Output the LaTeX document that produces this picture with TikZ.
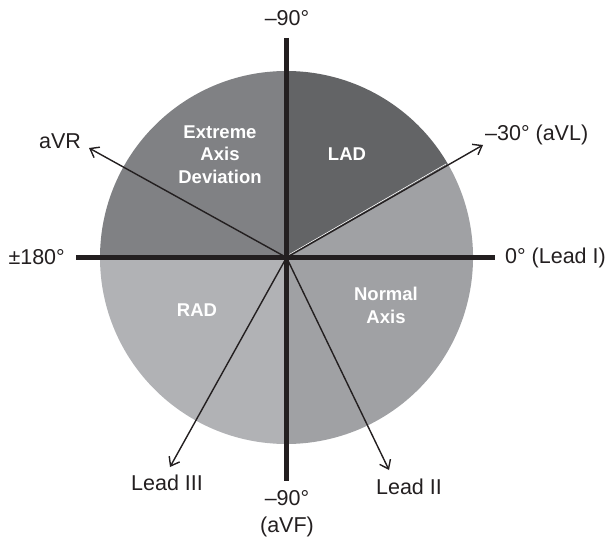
\documentclass[tikz,border=0pt]{standalone}
\usepackage{fontspec}
\setmainfont{Liberation Sans}
\usetikzlibrary{arrows.meta,calc}
\definecolor{inkc}{HTML}{231F20}
\definecolor{extc}{HTML}{808184}
\definecolor{ladc}{HTML}{636466}
\definecolor{norc}{HTML}{A0A1A4}
\definecolor{radc}{HTML}{B1B2B5}
\tikzset{
  axisline/.style={line width=5pt, inkc},
  leadarrow/.style={line width=1.4pt, inkc, -{Straight Barb[length=8pt,width=12pt,line width=1.4pt]}},
  outlabel/.style={font=\fontsize{21.5}{25}\selectfont, text=inkc, inner sep=0pt},
  inlabel/.style={font=\fontsize{18.5}{22.5}\selectfont\bfseries, text=white, align=center, inner sep=0pt},
}
\begin{document}
\begin{tikzpicture}[x=1pt,y=-1pt]
\useasboundingbox (0,0) rectangle (607,537);
\coordinate (C) at (286.5,257.5);
% sectors
\fill[extc] (C) -- +(-180:186.5) arc[start angle=-180,end angle=-90,radius=186.5] -- cycle;
\fill[ladc] (C) -- +(-90:186.5) arc[start angle=-90,end angle=-30,radius=186.5] -- cycle;
\fill[norc] (C) -- +(-30:186.5) arc[start angle=-30,end angle=90,radius=186.5] -- cycle;
\fill[radc] (C) -- +(90:186.5) arc[start angle=90,end angle=180,radius=186.5] -- cycle;
% thin white edge along the -30 boundary
\coordinate (wA) at ($(C)+(-0.6,-1.05)+(-30:4)$);
\coordinate (wB) at ($(C)+(-0.6,-1.05)+(-30:185)$);
\draw[white, line width=0.6pt] (wA) -- (wB);
% axes
\coordinate (vT) at (286.5,38);
\coordinate (vB) at (286.5,481);
\coordinate (hL) at (76,257.5);
\coordinate (hR) at (495,257.5);
\draw[axisline] (vT) -- (vB);
\draw[axisline] (hL) -- (hR);
% lead arrows
\coordinate (tVR) at (89,148);
\coordinate (tVL) at (483,145);
\coordinate (tIII) at (170,467);
\coordinate (tII) at (389,470);
\draw[leadarrow] (C) -- (tVR);
\draw[leadarrow] (C) -- (tVL);
\draw[leadarrow] (C) -- (tIII);
\draw[leadarrow] (C) -- (tII);
% outer labels
\node[outlabel] (lTop) at (287,18) {–90°};
\node[outlabel, anchor=east] (l180) at (65,257) {±180°};
\node[outlabel, anchor=west] (lI) at (505,258) {0° (Lead I)};
\node[outlabel] (lVR) at (60,141) {aVR};
\node[outlabel, anchor=west] (lVL) at (485,135) {–30° (aVL)};
\node[outlabel] (lIII) at (167,483) {Lead III};
\node[outlabel] (lII) at (409,487) {Lead II};
\node[outlabel, align=center, font=\fontsize{21.5}{27}\selectfont] (lVF) at (287,513.5) {–90°\\(aVF)};
% inner labels
\node[inlabel] (tExt) at (220,154.5) {Extreme\\Axis\\Deviation};
\node[inlabel] (tLAD) at (347,154) {LAD};
\node[inlabel] (tRAD) at (197,310) {RAD};
\node[inlabel] (tNor) at (386,305.5) {Normal\\Axis};
\end{tikzpicture}
\end{document}
